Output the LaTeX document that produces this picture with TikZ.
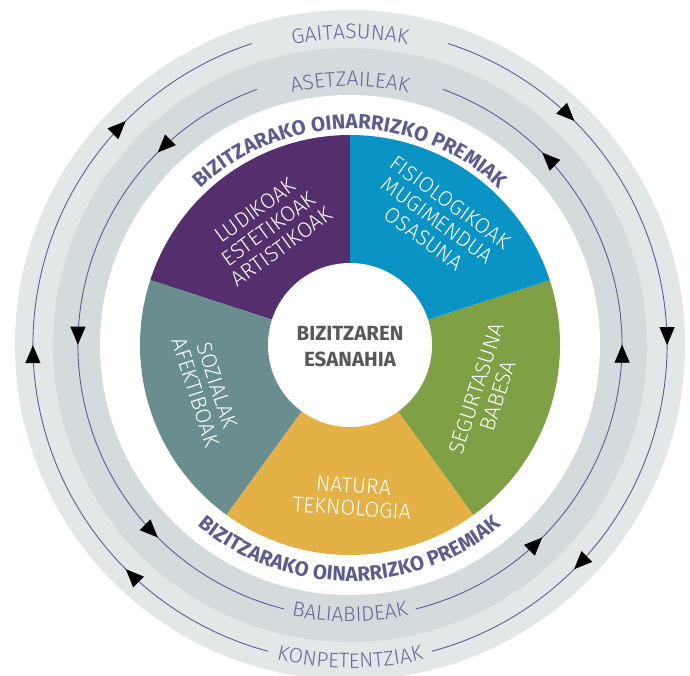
\documentclass[tikz,border=0pt]{standalone}
\usepackage{fontspec}
\setmainfont{Fira Sans}
\newfontfamily\thinfont{Fira Sans Light}
\usetikzlibrary{arrows.meta,decorations.text,decorations.markings}

\definecolor{ringout}{HTML}{E3E7E8}
\definecolor{ringin}{HTML}{D3DBDD}
\definecolor{lila}{HTML}{6B6999}
\definecolor{lilatitle}{HTML}{5E5B8F}
\definecolor{linecol}{HTML}{5F5C94}
\definecolor{ludi}{HTML}{552F6D}
\definecolor{fisio}{HTML}{0A93C5}
\definecolor{segur}{HTML}{80A046}
\definecolor{natur}{HTML}{E3B146}
\definecolor{sozial}{HTML}{6A8E8F}
\definecolor{centergrey}{HTML}{58585A}

\newcommand\ringfont{\thinfont\fontsize{21}{24}\selectfont}
\newcommand\titlefont{\bfseries\fontsize{20.5}{24}\selectfont}

\tikzset{
  seclabel/.style={white,align=center,font=\thinfont\fontsize{21.5}{22.5}\selectfont},
  ringtext/.style={decorate,decoration={text along path,text align=center,
    text color=lila,text={|\ringfont|#1}}},
  titletext/.style={decorate,decoration={text along path,text align=center,
    text color=lilatitle,text={|\titlefont|#1}}},
  flowline/.style n args={3}{draw=linecol,line width=0.9pt,postaction={decorate},
    decoration={markings,
      mark=at position #1 with {\arrow{Triangle[length=18pt,width=15pt,color=black]}},
      mark=at position #2 with {\arrow{Triangle[length=18pt,width=15pt,color=black]}},
      mark=at position #3 with {\arrow{Triangle[length=18pt,width=15pt,color=black]}}}}
}

\begin{document}
\begin{tikzpicture}[x=1pt,y=1pt]
  \useasboundingbox (-350,-330) rectangle (340,345);
  \clip (-350,-330) rectangle (340,345);

  % rings
  \fill[ringout] (0,0) circle (335);
  \fill[ringin] (0,0) circle (297);
  \fill[white] (0,0) circle (250);

  % the five needs
  \foreach \a/\c in {90/ludi,162/sozial,234/natur,306/segur,18/fisio}
    \fill[\c] (0,0) -- (\a:210) arc (\a:\a+72:210) -- cycle;
  \fill[white] (0,0) circle (82);

  \node[seclabel,rotate=36] (ludik) at (125:142) {LUDIKOAK\\ESTETIKOAK\\ARTISTIKOAK};
  \node[seclabel,rotate=-36] (fisiol) at (55:152) {FISIOLOGIKOAK\\MUGIMENDUA\\OSASUNA};
  \node[seclabel,rotate=72] (segurt) at (-19:145) {SEGURTASUNA\\BABESA};
  \node[seclabel,rotate=-72] (sozial) at (197:150) {SOZIALAK\\AFEKTIBOAK};
  \node[seclabel,rotate=-4] (natura) at (271:152) {NATURA\\TEKNOLOGIA};
  \node[centergrey,align=center,font=\bfseries\fontsize{20.5}{26}\selectfont]
    (esanahia) at (0,-2) {BIZITZAREN\\ESANAHIA};

  % titles between disc and rings
  \path[titletext={BIZITZARAKO OINARRIZKO PREMIAK}] (160:216) arc (160:20:216);
  \path[titletext={BIZITZARAKO OINARRIZKO PREMIAK}] (200:236) arc (200:340:236);

  % cycles
  \path[flowline={0.184}{0.490}{0.796}] (72:317) arc (72:-75:317);
  \path[flowline={0.204}{0.510}{0.816}] (255:317) arc (255:108:317);
  \path[flowline={0.212}{0.521}{0.829}] (-76:272) arc (-76:70:272);
  \path[flowline={0.171}{0.479}{0.788}] (110:272) arc (110:256:272);

  \path[ringtext={GAITASUNAK}] (120:306) arc (120:60:306);
  \path[ringtext={ASETZAILEAK}] (120:259) arc (120:60:259);
  \path[ringtext={BALIABIDEAK}] (240:277) arc (240:300:277);
  \path[ringtext={KONPETENTZIAK}] (240:323) arc (240:300:323);
\end{tikzpicture}
\end{document}
